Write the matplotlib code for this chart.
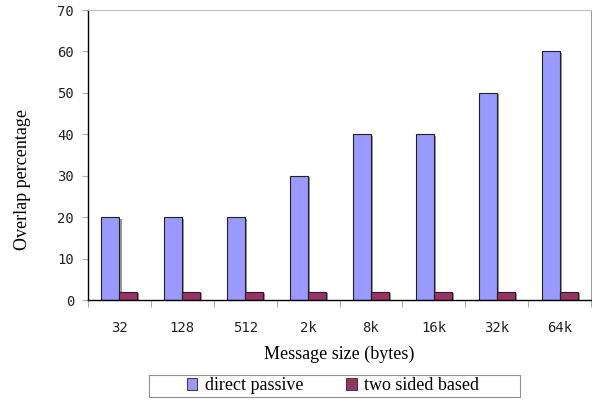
import matplotlib
matplotlib.use("Agg")
import matplotlib.pyplot as plt
import matplotlib.patheffects as pe
from matplotlib.patches import Rectangle
import numpy as np

# Overlap measured per message size
sizes = ["32", "128", "512", "2k", "8k", "16k", "32k", "64k"]
direct_passive = [20, 20, 20, 30, 40, 40, 50, 60]
two_sided = [2, 2, 2, 2, 2, 2, 2, 2]
series_names = ["direct passive", "two sided based"]

fig = plt.figure(figsize=(5.92, 4.0), dpi=100)
ax = fig.add_axes([88 / 592, 0.25, 503 / 592, 0.725])

x = np.arange(len(sizes))
width = 1 / 3.5
shadow = [pe.SimplePatchShadow(offset=(1.5, -1.0), shadow_rgbFace="#808080", alpha=0.8), pe.Normal()]

b1 = ax.bar(x - width / 2, direct_passive, width, color="#9999FF",
            edgecolor="#202020", linewidth=0.8, label=series_names[0])
b2 = ax.bar(x + width / 2, two_sided, width, color="#993366",
            edgecolor="#202020", linewidth=0.8, label=series_names[1])
for bars in (b1, b2):
    for p in bars:
        p.set_path_effects(shadow)

ax.set_xlim(-0.5, len(sizes) - 0.5)
ax.set_ylim(0, 70)
ax.set_yticks(range(0, 71, 10))
ax.set_yticklabels([str(v) for v in range(0, 71, 10)], fontsize=10,
                   family="DejaVu Sans Mono", color="#222222")

# category boundaries carry the tick marks, labels sit at the centres
ax.set_xticks(np.arange(len(sizes) + 1) - 0.5)
ax.set_xticklabels([])
ax.set_xticks(x, minor=True)
ax.set_xticklabels(sizes, minor=True, fontsize=10, family="DejaVu Sans Mono",
                   color="#222222")
ax.tick_params(axis="x", which="major", length=5, color="#b0b0b0", direction="out")
ax.tick_params(axis="x", which="minor", length=0, pad=15)
ax.tick_params(axis="y", length=4, color="#b0b0b0", pad=6)

ax.spines["left"].set_color("black")
ax.spines["bottom"].set_color("black")
ax.spines["left"].set_linewidth(1.0)
ax.spines["bottom"].set_linewidth(1.0)
ax.spines["top"].set_color("#c0c0c0")
ax.spines["right"].set_color("#a0a0a0")

ax.set_xlabel("Message size (bytes)", fontsize=13, family="Liberation Serif",
              labelpad=8)
ax.set_ylabel("Overlap percentage", fontsize=13, family="Liberation Serif")
ax.yaxis.set_label_coords(-0.114, 0.414)

# legend box is wider than its entries, so draw the frame separately
fig.patches.append(Rectangle((149 / 592, 3 / 400), 371 / 592, 22 / 400,
                             transform=fig.transFigure, fill=False,
                             edgecolor="#909090", linewidth=0.8))
leg = fig.legend(handles=[b1, b2], labels=series_names, loc="center",
                 bbox_to_anchor=(333 / 592, 14 / 400), ncol=2,
                 frameon=False,
                 prop={"family": "Liberation Serif", "size": 13},
                 handlelength=0.6, handleheight=0.6, handletextpad=0.4,
                 columnspacing=2.4, borderpad=0.1, borderaxespad=0)
for h in leg.legend_handles:
    h.set_path_effects([])
    h.set_edgecolor("#404040")

fig.savefig("out.png", dpi=100)
